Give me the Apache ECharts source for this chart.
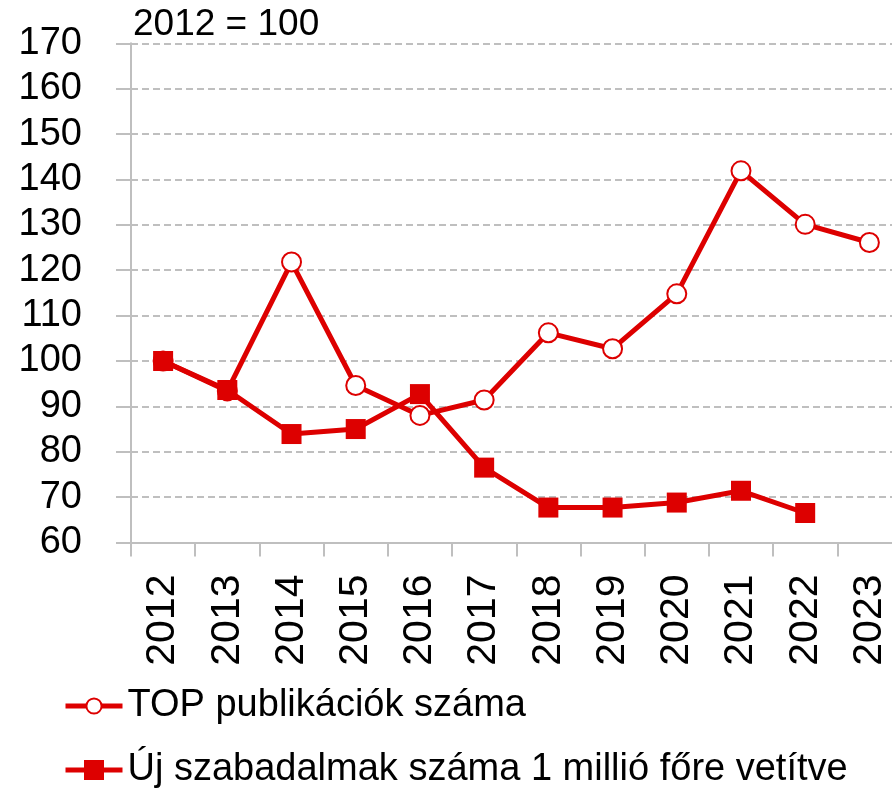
<!DOCTYPE html>
<html>
<head>
<meta charset="utf-8">
<script src="https://cdn.jsdelivr.net/npm/echarts@6/dist/echarts.min.js"></script>
<style>
html,body{margin:0;padding:0;background:#fff;}
#chart{width:892px;height:789px;}
</style>
</head>
<body>
<div id="chart"></div>
<script>
const years = ['2012','2013','2014','2015','2016','2017','2018','2019','2020','2021','2022','2023'];
const topPublications = [100, 93.4, 121.8, 94.6, 88.0, 91.4, 106.2, 102.7, 114.8, 141.9, 130.1, 126.1];
const newPatents = [100, 93.6, 83.9, 85.0, 92.7, 76.5, 67.7, 67.7, 68.8, 71.4, 66.5, null];
const seriesNames = ['TOP publikációk száma', 'Új szabadalmak száma 1 millió főre vetítve'];
const titleText = '2012 = 100';

const RED = '#DD0000';
const GRAY = '#BFBFBF';
const FONT = 'Liberation Sans, Arial, sans-serif';

const legendBase = {
  orient: 'vertical',
  left: 63,
  itemWidth: 57,
  padding: 0,
  lineStyle: {width: 5},
  textStyle: {fontFamily: FONT, fontSize: 38, color: '#000'}
};

const chart = echarts.init(document.getElementById('chart'), null, {renderer: 'canvas'});
chart.setOption({
  animation: false,
  backgroundColor: '#fff',
  title: {
    text: titleText,
    left: 133,
    top: 6,
    padding: 0,
    textStyle: {fontFamily: FONT, fontSize: 37, fontWeight: 'normal', color: '#000'}
  },
  legend: [
    Object.assign({}, legendBase, {top: 687, itemHeight: 19, data: [seriesNames[0]]}),
    Object.assign({}, legendBase, {top: 751, itemHeight: 25, data: [seriesNames[1]]})
  ],
  grid: {left: 131, width: 770.5, top: 43.3, bottom: 246.5, containLabel: false, outerBoundsMode: 'none'},
  xAxis: {
    type: 'category',
    data: years,
    boundaryGap: true,
    axisLine: {lineStyle: {color: GRAY, width: 2}},
    axisTick: {show: true, length: 14, interval: 0, lineStyle: {color: GRAY, width: 2}},
    axisLabel: {rotate: 90, interval: 0, margin: 32, fontFamily: FONT, fontSize: 41, color: '#000'},
    splitLine: {show: false}
  },
  yAxis: {
    type: 'value',
    min: 60,
    max: 170,
    interval: 10,
    axisLine: {show: true, lineStyle: {color: GRAY, width: 2}},
    axisTick: {show: true, length: 15, lineStyle: {color: GRAY, width: 2}},
    axisLabel: {margin: 49, fontFamily: FONT, fontSize: 38, color: '#000'},
    splitLine: {show: true, lineStyle: {color: GRAY, width: 2, type: [7, 4]}}
  },
  series: [
    {
      name: seriesNames[0],
      type: 'line',
      data: topPublications,
      symbol: 'emptyCircle',
      symbolSize: 19,
      z: 2,
      lineStyle: {color: RED, width: 5},
      itemStyle: {color: RED, borderColor: RED, borderWidth: 3.5}
    },
    {
      name: seriesNames[1],
      type: 'line',
      data: newPatents,
      symbol: 'rect',
      symbolSize: 20,
      z: 3,
      lineStyle: {color: RED, width: 5},
      itemStyle: {color: RED}
    }
  ]
});
</script>
</body>
</html>
